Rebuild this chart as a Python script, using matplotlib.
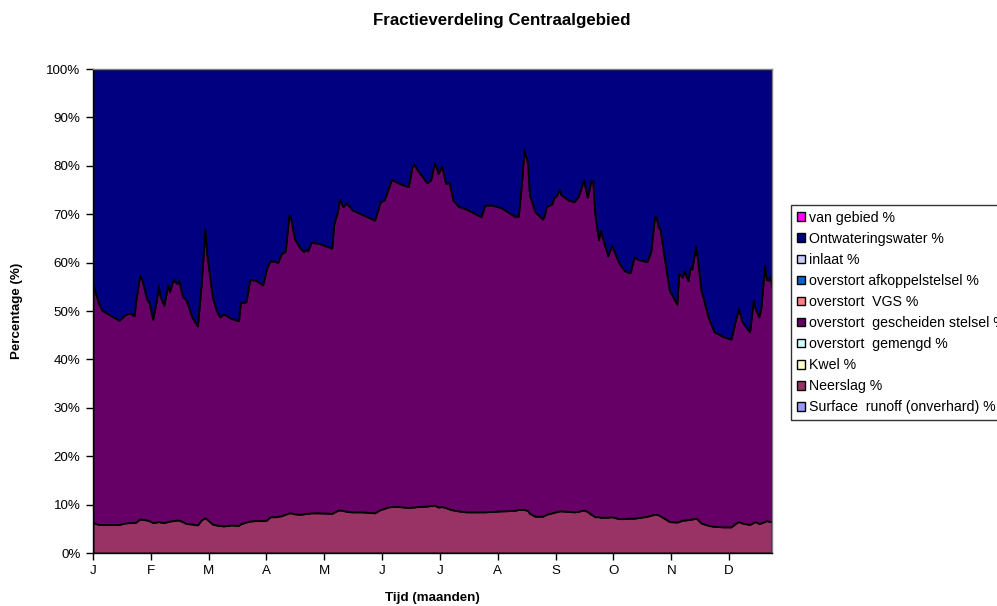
import matplotlib
matplotlib.use("Agg")
import matplotlib.pyplot as plt
from matplotlib.patches import Patch
import numpy as np

plt.rcParams['font.family'] = ['Liberation Sans', 'DejaVu Sans']

# ---- data ----
days = [0, 3, 5, 9, 14, 17, 20, 22, 23, 25, 26, 29, 30, 32, 34, 35, 36, 38, 40, 41,
        43, 45, 46, 48, 50, 53, 56, 58, 60, 61, 64, 66, 68, 70, 74, 78, 79, 82, 84, 87,
        91, 93, 95, 98, 99, 101, 103, 105, 106, 108, 111, 113, 114, 115, 117, 121, 128, 129, 131, 132,
        134, 136, 139, 144, 151, 154, 156, 158, 160, 164, 169, 171, 172, 174, 179, 181, 183, 184, 185, 187,
        189, 191, 193, 196, 200, 208, 210, 214, 219, 226, 228, 230, 231, 233, 234, 237, 241, 242, 243, 246,
        247, 248, 250, 251, 255, 258, 260, 263, 265, 267, 268, 269, 271, 272, 274, 276, 278, 282, 285, 288,
        290, 292, 297, 299, 301, 302, 303, 304, 307, 309, 313, 314, 316, 317, 319, 320, 321, 323, 324, 326,
        330, 333, 338, 342, 344, 346, 348, 352, 354, 355, 357, 358, 360, 361, 362, 363, 364]

# cumulative top of "overstort gescheiden stelsel %" (boundary with Ontwateringswater)
top_boundary = [55.5, 51.6, 50.1, 49.2, 48.1, 49.2, 49.6, 49.0, 52.3, 57.4, 56.8, 52.3, 51.9, 48.3, 52.3, 55.4, 53.0, 51.2, 55.4, 54.0,
                56.5, 55.7, 56.4, 53.0, 52.3, 48.8, 46.9, 55.7, 66.9, 61.9, 53.0, 50.2, 48.8, 49.4, 48.5, 48.0, 51.7, 51.9, 56.5, 56.4,
                55.4, 58.8, 60.4, 60.2, 60.0, 61.9, 62.3, 69.8, 69.2, 65.0, 63.0, 62.3, 62.8, 62.4, 64.2, 64.0, 63.0, 67.8, 70.5, 73.1,
                71.6, 72.3, 70.9, 70.0, 68.8, 72.6, 72.9, 75.0, 77.2, 76.4, 75.7, 79.8, 80.4, 79.1, 76.5, 77.1, 80.6, 79.8, 78.4, 80.0,
                76.4, 76.5, 72.9, 71.6, 71.1, 69.5, 71.9, 71.9, 71.3, 69.6, 69.6, 77.7, 83.4, 80.5, 74.0, 70.5, 69.0, 69.8, 71.6, 72.1,
                73.5, 73.6, 75.1, 74.0, 72.9, 72.6, 73.6, 77.1, 73.5, 77.1, 76.7, 70.2, 64.7, 66.7, 64.0, 61.4, 63.6, 59.9, 58.3, 57.9,
                61.2, 60.7, 60.2, 62.3, 69.5, 69.4, 67.4, 66.9, 59.2, 54.3, 51.4, 57.8, 57.0, 58.3, 56.3, 59.0, 58.6, 63.4, 60.9, 54.3,
                48.5, 45.7, 44.7, 44.2, 47.5, 50.6, 47.8, 45.7, 52.3, 50.6, 48.8, 50.6, 59.5, 56.5, 56.4, 57.2, 54.7]

neerslag = [6.3, 5.9, 5.9, 5.9, 5.9, 6.2, 6.3, 6.3, 6.4, 7.0, 7.0, 6.8, 6.7, 6.3, 6.4, 6.5, 6.4, 6.3, 6.5, 6.6,
            6.7, 6.8, 6.8, 6.5, 6.1, 6.0, 5.8, 6.8, 7.3, 7.0, 6.0, 5.8, 5.7, 5.6, 5.8, 5.7, 6.0, 6.4, 6.6, 6.7,
            6.7, 6.8, 7.5, 7.5, 7.6, 7.7, 8.0, 8.3, 8.3, 8.1, 8.0, 8.1, 8.2, 8.2, 8.3, 8.3, 8.2, 8.4, 8.8, 8.9,
            8.8, 8.6, 8.5, 8.5, 8.3, 9.0, 9.2, 9.5, 9.6, 9.6, 9.4, 9.5, 9.5, 9.6, 9.7, 9.8, 9.9, 9.7, 9.5, 9.6,
            9.4, 9.1, 8.9, 8.7, 8.5, 8.5, 8.5, 8.6, 8.7, 8.8, 9.0, 9.0, 9.0, 8.8, 8.2, 7.6, 7.6, 7.8, 8.0, 8.3,
            8.4, 8.5, 8.7, 8.7, 8.6, 8.5, 8.6, 8.9, 8.6, 8.0, 7.8, 7.5, 7.5, 7.4, 7.4, 7.4, 7.5, 7.1, 7.1, 7.2,
            7.2, 7.3, 7.6, 7.8, 8.0, 8.0, 7.9, 7.7, 7.0, 6.5, 6.4, 6.5, 6.8, 6.8, 6.9, 7.0, 7.0, 7.2, 7.0, 6.2,
            5.7, 5.5, 5.4, 5.4, 6.0, 6.5, 6.2, 5.9, 6.3, 6.5, 6.1, 6.2, 6.5, 6.7, 6.6, 6.5, 6.5]

legend_labels = ["van gebied %", "Ontwateringswater %", "inlaat %", "overstort afkoppelstelsel %",
                 "overstort  VGS %", "overstort  gescheiden stelsel %", "overstort  gemengd %",
                 "Kwel %", "Neerslag %", "Surface  runoff (onverhard) %"]
legend_colors = ["#FF00FF", "#000080", "#CCCCFF", "#0066CC", "#FF8080", "#660066",
                 "#CCFFFF", "#FFFFCC", "#993366", "#9999FF"]

month_labels = ["J", "F", "M", "A", "M", "J", "J", "A", "S", "O", "N", "D"]
month_ticks = [0, 31, 62, 93, 124, 155, 186, 217, 248, 279, 310, 341]
y_ticks = [0, 10, 20, 30, 40, 50, 60, 70, 80, 90, 100]
y_ticklabels = [f"{v}%" for v in y_ticks]

title = "Fractieverdeling Centraalgebied"
xlabel = "Tijd (maanden)"
ylabel = "Percentage (%)"

# ---- derived series shares ----
x = np.array(days)
nb = np.array(neerslag)
gescheiden = np.array(top_boundary) - nb
ontwatering = 100.0 - np.array(top_boundary)

fig = plt.figure(figsize=(9.97, 6.06), dpi=100)
ax = fig.add_axes([93 / 997, 1 - 553 / 606, (772 - 93) / 997, (553 - 69) / 606])

ax.stackplot(x, nb, gescheiden, ontwatering,
             colors=["#993366", "#660066", "#000080"],
             edgecolor="black", linewidth=1.3)

ax.set_xlim(0, 364)
ax.set_ylim(0, 100)
ax.set_xticks(month_ticks)
ax.set_xticklabels(month_labels)
ax.set_yticks(y_ticks)
ax.set_yticklabels(y_ticklabels)
ax.tick_params(axis="both", direction="out", length=5, width=1, labelsize=9.6, color="black", pad=4)
for s in ax.spines.values():
    s.set_color("black")
    s.set_linewidth(1)
ax.spines["top"].set_color("#808080")
ax.spines["right"].set_color("#808080")

fig.text(502 / 997, 1 - 20 / 606, title, ha="center", va="center", fontsize=12.2, fontweight="bold")
fig.text(432 / 997, 1 - 598 / 606, xlabel, ha="center", va="center", fontsize=9.6, fontweight="bold")
fig.text(17 / 997, 1 - 311 / 606, ylabel, ha="center", va="center", fontsize=9.6, fontweight="bold",
         rotation=90)

handles = [Patch(facecolor=c, edgecolor="black", linewidth=1) for c in legend_colors]
leg = fig.legend(handles, legend_labels, loc="upper left",
                 bbox_to_anchor=(791 / 997, 1 - 205 / 606), bbox_transform=fig.transFigure,
                 fontsize=10.2, frameon=True, fancybox=False, shadow=False,
                 handlelength=0.56, handleheight=0.56, handletextpad=0.28,
                 labelspacing=0.5, borderpad=0.4, borderaxespad=0)
leg.get_frame().set_edgecolor("black")
leg.get_frame().set_linewidth(1)

fig.savefig("out.png", dpi=100)
